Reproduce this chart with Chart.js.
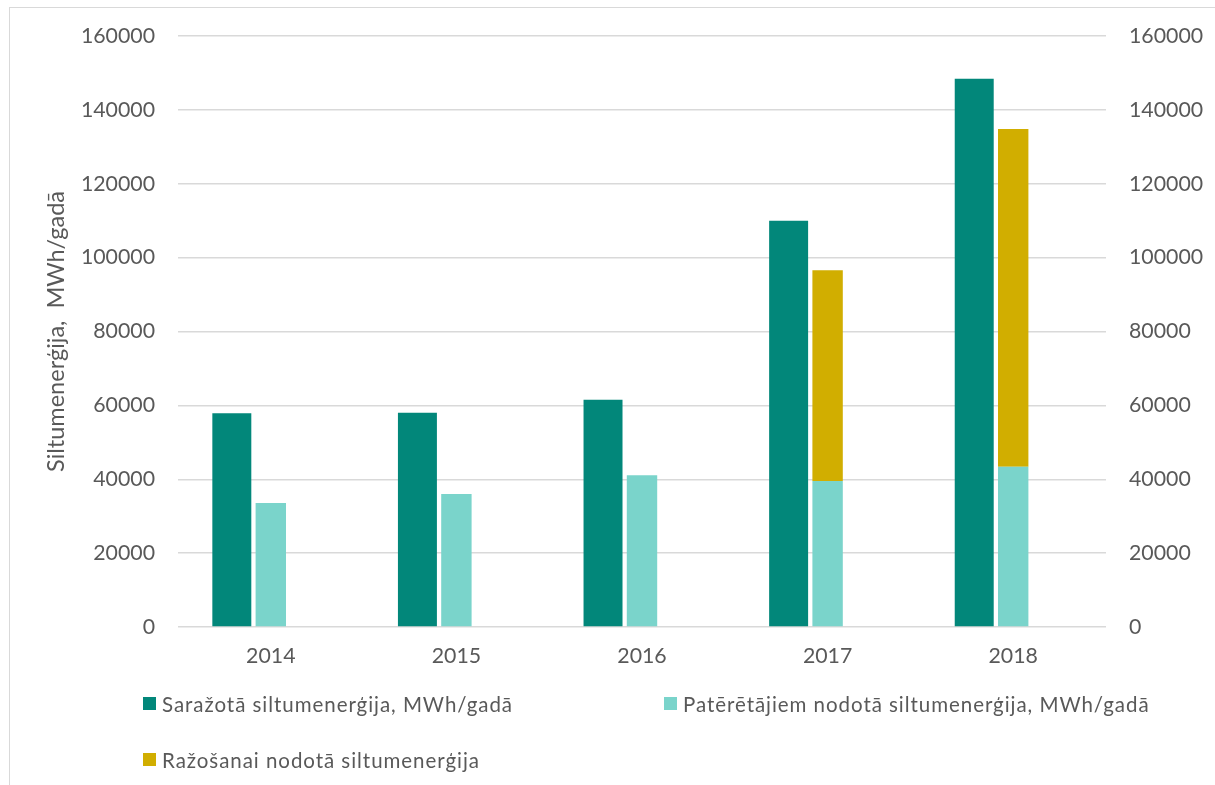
<!DOCTYPE html>
<html>
<head>
<meta charset="utf-8">
<script src="https://cdn.jsdelivr.net/npm/chart.js@4/dist/chart.umd.min.js"></script>
<style>
  html, body { margin: 0; padding: 0; background: #ffffff; }
  #wrap { position: relative; width: 1215px; height: 785px; overflow: hidden; background: #fff; }
  #frame { position: absolute; left: 9px; top: 7px; width: 1300px; height: 900px;
           border-left: 1px solid #d9d9d9; border-top: 1px solid #d9d9d9; box-sizing: border-box; }
  #c { position: absolute; left: 0; top: 0; }
  .lg { position: absolute; font-family: Lato, "Open Sans", sans-serif; font-size: 20.5px;
        color: #595959; white-space: nowrap; line-height: 24px; }
  .lg i { position: absolute; left: 0; top: 5px; width: 13px; height: 13px; }
  .lg span { position: absolute; left: 19px; top: 0; letter-spacing: 0.95px; }
</style>
</head>
<body>
<div id="wrap">
  <div id="frame"></div>
  <canvas id="c" width="1215" height="785"></canvas>
  <div id="legend"></div>
</div>
<script>
// ---- data ----
const years = ['2014', '2015', '2016', '2017', '2018'];
const producedHeat = [57900, 58000, 61500, 110000, 148400];
const deliveredToConsumers = [33600, 36000, 41100, 39500, 43400];
const deliveredToProduction = [null, null, null, 57100, 91400];
const seriesNames = [
  'Saražotā siltumenerģija, MWh/gadā',
  'Patērētājiem nodotā siltumenerģija, MWh/gadā',
  'Ražošanai nodotā siltumenerģija'
];
const axisTitle = 'Siltumenerģija,  MWh/gadā';
const yMin = 0, yMax = 160000, yStep = 20000;

// ---- styles ----
const colors = ['#02877A', '#7AD4CB', '#D1AE00'];
const fontFamily = 'Lato, "Open Sans", sans-serif';
const textColor = '#595959';
const gridColor = '#d9d9d9';
const catPct = 0.63;

const tickFont = { family: fontFamily, size: 21.3 };

new Chart(document.getElementById('c'), {
  type: 'bar',
  data: {
    labels: years,
    datasets: [
      { label: seriesNames[0], data: producedHeat, backgroundColor: colors[0], stack: 'a',
        categoryPercentage: catPct, barPercentage: 1.0 },
      { label: seriesNames[1], data: deliveredToConsumers, backgroundColor: colors[1], stack: 'b',
        categoryPercentage: catPct, barPercentage: 0.78 },
      { label: seriesNames[2], data: deliveredToProduction, backgroundColor: colors[2], stack: 'b',
        categoryPercentage: catPct, barPercentage: 0.78 },
      { label: '', data: years.map(() => null), backgroundColor: 'rgba(0,0,0,0)', stack: 'c',
        categoryPercentage: catPct, barPercentage: 0.78 }
    ]
  },
  options: {
    responsive: false,
    animation: false,
    layout: { padding: { left: 10, right: 0, top: 36, bottom: 108 } },
    plugins: { legend: { display: false }, tooltip: { enabled: false }, title: { display: false } },
    scales: {
      x: {
        stacked: true,
        grid: { display: false, drawTicks: false },
        border: { display: false },
        ticks: { font: tickFont, color: textColor, padding: 16 },
        afterFit: (s) => { s.height = 50; }
      },
      y: {
        position: 'left',
        stacked: true,
        min: yMin, max: yMax,
        grid: { color: gridColor, lineWidth: 1.5, drawTicks: false },
        border: { display: false },
        ticks: { stepSize: yStep, font: tickFont, color: textColor, padding: 23,
                 callback: (v) => String(v) },
        title: { display: true, text: axisTitle, color: textColor,
                 font: { family: fontFamily, size: 23.5 }, padding: { top: 32, bottom: 0 } },
        afterFit: (s) => { s.width = 168; }
      },
      y2: {
        position: 'right',
        min: yMin, max: yMax,
        grid: { display: false, drawTicks: false },
        border: { display: false },
        ticks: { stepSize: yStep, font: tickFont, color: textColor, padding: 23,
                 callback: (v) => String(v) },
        afterFit: (s) => { s.width = 109; }
      }
    }
  }
});

// ---- legend (real text, laid out like the original) ----
const legendSlots = [
  { left: 143, top: 692 },
  { left: 664, top: 692 },
  { left: 143, top: 748 }
];
const lg = document.getElementById('legend');
seriesNames.forEach((name, i) => {
  const d = document.createElement('div');
  d.className = 'lg';
  d.style.left = legendSlots[i].left + 'px';
  d.style.top = legendSlots[i].top + 'px';
  const box = document.createElement('i');
  box.style.background = colors[i];
  const t = document.createElement('span');
  t.textContent = name;
  d.appendChild(box); d.appendChild(t);
  lg.appendChild(d);
});
</script>
</body>
</html>
